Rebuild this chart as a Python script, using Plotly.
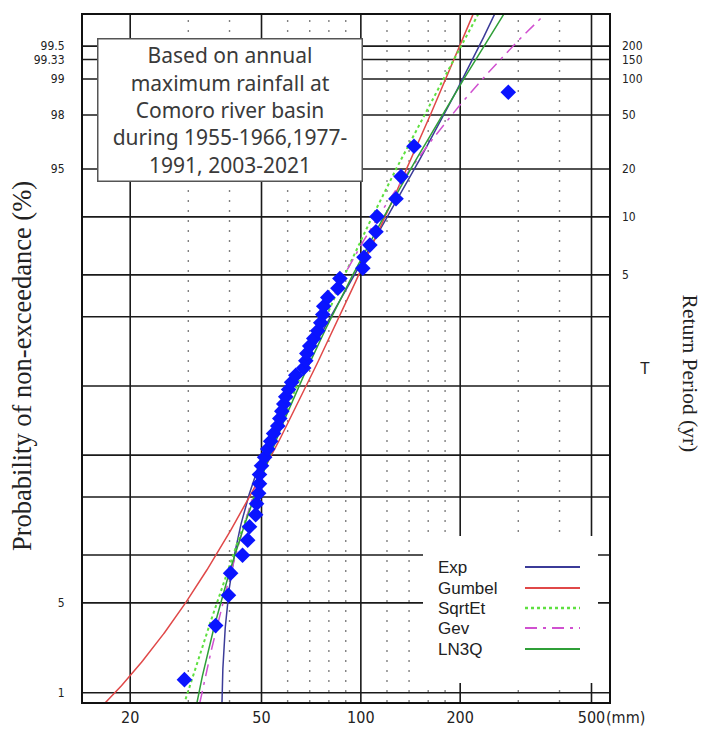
import math
import numpy as np
import plotly.graph_objects as go

# ---------------- data ----------------
# annual maximum rainfall (mm), sorted ascending (46 years)
rain_mm = [29.2, 36.3, 39.7, 40.3, 43.8, 45.4, 46.0, 48.0, 48.3, 49.0,
           49.3, 49.3, 50.0, 51.1, 52.2, 53.3, 54.4, 56.0, 56.8, 57.6,
           58.4, 59.2, 60.4, 61.7, 63.5, 67.1, 68.1, 68.6, 70.0, 72.0,
           74.0, 75.6, 76.7, 77.2, 79.4, 85.2, 86.4, 101.4, 102.2, 106.5,
           111.1, 111.9, 127.8, 132.4, 144.9, 279.8]

left_tick_probs = [0.01, 0.05, 0.95, 0.98, 0.99, 1 - 1 / 150, 0.995]
left_tick_labels = ["1", "5", "95", "98", "99", "99.33", "99.5"]
return_periods = [200, 150, 100, 50, 20, 10, 5]
return_labels = ["200", "150", "100", "50", "20", "10", "5"]
grid_probs = [0.01, 0.05, 0.1, 0.2, 0.3, 0.5, 0.7, 0.8, 0.9, 0.95, 0.98, 0.99,
              1 - 1 / 150, 0.995]
x_major = [20, 50, 100, 200, 500]
x_major_labels = ["20", "50", "100", "200", "500"]
x_minor = [30, 40, 60, 70, 80, 90, 120, 140, 160, 180, 300, 400]

legend_names = ["Exp", "Gumbel", "SqrtEt", "Gev", "LN3Q"]
legend_colors = ["#3b3b98", "#e04848", "#5ee040", "#d050d0", "#2f9f38"]
legend_dashes = ["solid", "solid", "3px,3px", "12px,6px,3px,6px", "solid"]

# fitted distribution parameters (estimated from the drawn curves)
exp_x0, exp_beta = 37.6, 36.0
gum_u, gum_a = 58.6, 26.6
sqe_a, sqe_b = 96.0, 0.77
gev_u, gev_a, gev_k = 55.0, 18.0, -0.3
ln3_a, ln3_mu, ln3_sig = 22.3, 3.754, 0.625

X_RANGE = [1.158, 2.752]
Y_RANGE = [-2.396, 2.812]

# ---------------- helpers ----------------
_erf = np.vectorize(math.erf)
_zg = np.linspace(-6, 6, 24001)
_pg = 0.5 * (1 + _erf(_zg / math.sqrt(2)))


def phi(z):
    return 0.5 * (1 + _erf(np.asarray(z, dtype=float) / math.sqrt(2)))


def probit(p):
    return np.interp(np.asarray(p, dtype=float), _pg, _zg)


n = len(rain_mm)
pp = [(i + 1 - 0.4) / (n + 0.2) for i in range(n)]  # Cunnane plotting position

fig = go.Figure()

xlo, xhi = 10 ** X_RANGE[0], 10 ** X_RANGE[1]

# horizontal grid
hx, hy = [], []
for p in grid_probs:
    z = float(probit(p))
    hx += [xlo, xhi, None]
    hy += [z, z, None]
fig.add_trace(go.Scatter(x=hx, y=hy, mode="lines", line=dict(color="#1a1a1a", width=1.6),
                         hoverinfo="skip", showlegend=False))
# vertical minor grid (dotted)
vx, vy = [], []
for v in x_minor:
    vx += [v, v, None]
    vy += [Y_RANGE[0], Y_RANGE[1], None]
fig.add_trace(go.Scatter(x=vx, y=vy, mode="lines",
                         line=dict(color="#808080", width=1.4, dash="2px,8px"),
                         hoverinfo="skip", showlegend=False))
# vertical major grid
vx, vy = [], []
for v in x_major:
    vx += [v, v, None]
    vy += [Y_RANGE[0], Y_RANGE[1], None]
fig.add_trace(go.Scatter(x=vx, y=vy, mode="lines", line=dict(color="#1a1a1a", width=1.6),
                         hoverinfo="skip", showlegend=False))

# ---------------- fitted curves ----------------
zz = np.linspace(-2.6, 3.0, 500)
pz = phi(zz)
yr = -np.log(-np.log(pz))
curves = {}
curves["Exp"] = (exp_x0 + exp_beta * (-np.log(1 - pz)), zz)
curves["Gumbel"] = (gum_u + gum_a * yr, zz)
xs = np.geomspace(5, 2000, 1500)
s = np.sqrt(sqe_b * xs)
F = np.exp(-sqe_a * (1 + s) * np.exp(-s))
curves["SqrtEt"] = (xs, probit(F))
curves["Gev"] = (gev_u + gev_a * (1 - np.exp(-gev_k * yr)) / gev_k, zz)
curves["LN3Q"] = (ln3_a + np.exp(ln3_mu + ln3_sig * zz), zz)

for name, col, dash in zip(legend_names, legend_colors, legend_dashes):
    cx, cy = curves[name]
    w = 2.0 if name == "SqrtEt" else 1.5
    fig.add_trace(go.Scatter(x=cx, y=cy, mode="lines", name=name,
                             line=dict(color=col, width=w, dash=dash),
                             showlegend=False, hoverinfo="skip"))

# ---------------- observations ----------------
fig.add_trace(go.Scatter(x=rain_mm, y=probit(pp), mode="markers",
                         marker=dict(symbol="diamond", size=12, color="#0a14ff",
                                     line=dict(width=0)),
                         showlegend=False, name="observed"))

# dummy trace for right axis
fig.add_trace(go.Scatter(x=[xlo], y=[0], yaxis="y2", mode="markers",
                         marker=dict(opacity=0), showlegend=False, hoverinfo="skip"))

tickfont = dict(family="Liberation Sans Narrow, DejaVu Sans Condensed, Arial Narrow, sans-serif",
                size=16, color="#222")
ytickfont = dict(family="Liberation Sans Narrow, DejaVu Sans Condensed, Arial Narrow, sans-serif",
                 size=12, color="#222")

fig.update_layout(
    width=707, height=731,
    margin=dict(l=83, r=98, t=15, b=29, autoexpand=False),
    plot_bgcolor="white", paper_bgcolor="white",
    showlegend=False,
    xaxis=dict(type="log", range=X_RANGE, showgrid=False, zeroline=False,
               tickmode="array", tickvals=x_major, ticktext=x_major_labels,
               ticks="", tickfont=tickfont, ticklabelstandoff=0, automargin=False,
               showline=True, mirror=True, linecolor="#111", linewidth=2),
    yaxis=dict(range=Y_RANGE, showgrid=False, zeroline=False,
               tickmode="array", tickvals=list(probit(left_tick_probs)),
               ticktext=left_tick_labels, ticks="", tickfont=ytickfont,
               ticklabelstandoff=14, automargin=False,
               showline=True, mirror=True, linecolor="#111", linewidth=2),
    yaxis2=dict(range=Y_RANGE, overlaying="y", side="right", anchor="x",
                showgrid=False, zeroline=False, tickmode="array",
                tickvals=list(probit([1 - 1 / t for t in return_periods])),
                ticktext=return_labels, ticks="", tickfont=ytickfont,
                ticklabelstandoff=12, automargin=False, showline=False),
)

annotations = [
    dict(text="Based on annual<br>maximum rainfall at<br>Comoro river basin<br>during 1955-1966,1977-<br>1991, 2003-2021",
         xref="paper", yref="paper", x=0.2804, y=0.8624, xanchor="center", yanchor="middle",
         showarrow=False, align="center", width=263, height=141,
         bgcolor="white", bordercolor="#555", borderwidth=1.5, borderpad=0,
         font=dict(family="Noto Sans", size=21, color="#3a3a3a")),
    dict(text="Probability of non-exceedance (%)", xref="paper", yref="paper",
         x=-0.116, y=0.489, textangle=-90, showarrow=False,
         xanchor="center", yanchor="middle",
         font=dict(family="Liberation Serif", size=26.5, color="#222")),
    dict(text="Return Period (yr)", xref="paper", yref="paper",
         x=1.154, y=0.478, textangle=90, showarrow=False,
         xanchor="center", yanchor="middle",
         font=dict(family="Liberation Serif", size=21.5, color="#222")),
    dict(text="T", xref="paper", yref="paper", x=1.0684, y=0.486, showarrow=False,
         xanchor="center", yanchor="middle",
         font=dict(family="Liberation Sans", size=16, color="#222")),
    dict(text="(mm)", xref="paper", yref="paper", x=(604 - 83) / 526, y=(702 - 717) / 687,
         showarrow=False, xanchor="left", yanchor="middle", font=tickfont),
]

shapes = [
    dict(type="rect", xref="paper", yref="paper",
         x0=(423 - 83) / 526, x1=(598 - 83) / 526,
         y0=(702 - 683) / 687, y1=(702 - 536) / 687,
         fillcolor="white", line=dict(width=0), layer="above"),
]
leg_y = [567, 588, 608, 628, 649]
for name, col, dash, ly in zip(legend_names, legend_colors, legend_dashes, leg_y):
    yp = (702 - ly) / 687
    annotations.append(dict(text=name, xref="paper", yref="paper", x=(436 - 83) / 526, y=yp,
                            xanchor="left", yanchor="middle", showarrow=False,
                            font=dict(family="Liberation Sans", size=17, color="#222")))
    shapes.append(dict(type="line", xref="paper", yref="paper",
                       x0=(525 - 83) / 526, x1=(580 - 83) / 526, y0=yp, y1=yp,
                       line=dict(color=col, width=2.5 if name == "SqrtEt" else 2, dash=dash),
                       layer="above"))

fig.update_layout(annotations=annotations, shapes=shapes)
fig.write_html("out.html")
